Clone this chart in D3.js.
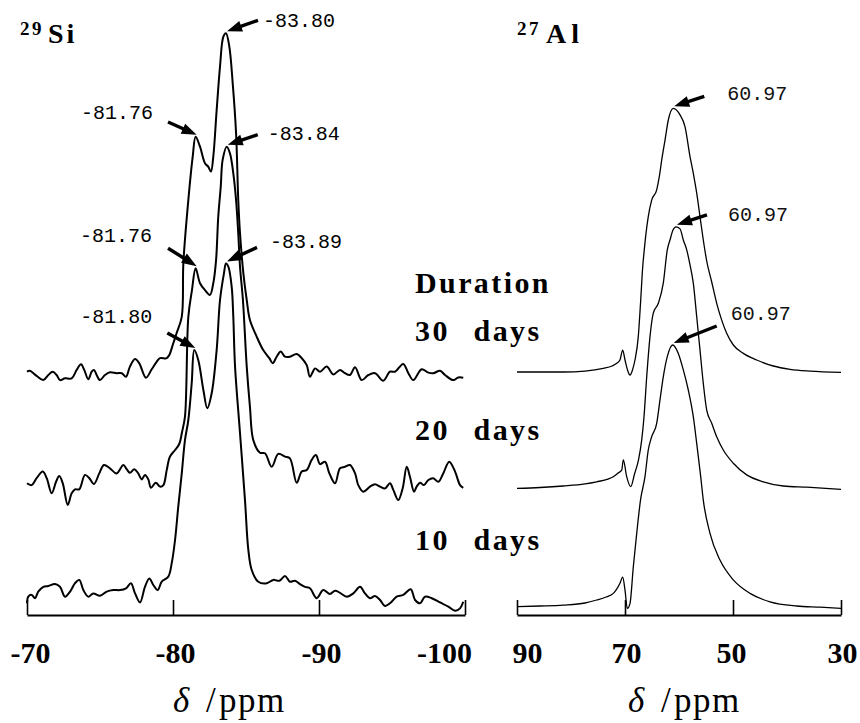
<!DOCTYPE html>
<html>
<head>
<meta charset="utf-8">
<script src="https://cdn.jsdelivr.net/npm/d3@7"></script>
<style>
  body { margin: 0; background: #fff; }
  svg { display: block; }
</style>
</head>
<body>
<svg id="chart"></svg>
<script>
// ---- data: [ppm, intensity above own baseline] ----
const si10 = [[-70.0,-3.1],[-70.09,-0.9],[-70.32,-0.3],[-70.55,-1.4],[-70.77,0.8],[-71.12,2.4],[-71.46,2.7],[-71.92,3.3],[-72.26,2.4],[-72.6,-0.9],[-72.95,0.8],[-73.29,3.6],[-73.58,4.7],[-73.86,1.3],[-74.2,-0.9],[-74.54,0.2],[-75.0,-0.6],[-75.46,0.8],[-75.91,1.3],[-76.37,1.3],[-76.78,1.9],[-77.12,3.6],[-77.4,0.2],[-77.74,-2.8],[-78.08,2.4],[-78.38,5.2],[-78.65,3],[-78.95,1.3],[-79.23,4.1],[-79.68,5.8],[-79.91,10.2],[-80.14,18],[-80.36,29.1],[-80.6,40.2],[-80.82,51.3],[-81.05,58],[-81.28,70.2],[-81.46,81.3],[-81.73,78],[-82.08,68],[-82.35,61.9],[-82.65,66.9],[-82.99,81.3],[-83.22,98],[-83.49,106.9],[-83.63,110.2],[-83.79,109.1],[-84.02,102.4],[-84.13,92.4],[-84.25,75.8],[-84.59,53.6],[-84.93,31.3],[-85.16,14.7],[-85.39,8],[-85.84,4.1],[-86.42,3.6],[-86.87,4.7],[-87.28,4.4],[-87.67,6],[-88.01,4.1],[-88.36,4.4],[-88.7,3.3],[-89.04,2.4],[-89.38,1.9],[-89.84,-1.4],[-90.29,1.3],[-90.75,0],[-91.1,1.1],[-91.44,0.4],[-91.9,-0.9],[-92.35,0.2],[-92.81,2.4],[-93.15,0.2],[-93.49,-1.4],[-93.84,-0.7],[-94.18,-2],[-94.52,-4],[-94.86,-3.1],[-95.32,-0.9],[-95.77,-0.3],[-96.28,1.6],[-96.58,-2],[-96.92,-3.1],[-97.26,-0.9],[-97.72,-1.4],[-98.29,-2.8],[-98.86,-4.2],[-99.32,-5.6],[-99.66,-4.8],[-99.88,-2.6]];

const si20 = [[-70.0,1.9],[-70.32,1.3],[-70.66,3.6],[-71.08,5.8],[-71.35,3.6],[-71.69,-1.4],[-71.99,2.4],[-72.21,4.3],[-72.45,1.9],[-72.79,-5.3],[-73.06,-1.4],[-73.29,-0.1],[-73.58,-0.1],[-73.97,4.7],[-74.27,3.6],[-74.59,1.7],[-74.95,5.2],[-75.27,8],[-75.68,6.9],[-76.14,5.2],[-76.6,8],[-76.83,6.6],[-77.05,5.4],[-77.35,6.6],[-77.62,5.2],[-77.86,3.2],[-78.08,4.7],[-78.31,3.2],[-78.49,0.4],[-78.82,2.1],[-79.11,0.8],[-79.34,1.3],[-79.57,6.3],[-79.79,10.8],[-80.14,13],[-80.43,15],[-80.62,19],[-80.82,24.1],[-81.05,57.4],[-81.3,66.3],[-81.55,73.6],[-81.85,68.6],[-82.19,66.3],[-82.53,64.7],[-82.76,68.6],[-82.95,76.3],[-83.1,90.8],[-83.27,100.8],[-83.4,109.7],[-83.68,114.1],[-83.9,111.9],[-84.13,105.2],[-84.32,96.3],[-84.47,85.2],[-84.59,74.1],[-84.79,63],[-85.05,40.8],[-85.27,27.4],[-85.5,16.3],[-85.96,12.1],[-86.3,11.9],[-86.76,7.4],[-87.21,11.7],[-87.67,10.8],[-88.01,10.2],[-88.47,2.1],[-88.82,5.8],[-89.16,6.3],[-89.5,9.7],[-89.79,11.3],[-90.07,8.3],[-90.41,9.1],[-90.71,5.2],[-91.1,1.9],[-91.44,6.9],[-91.78,7.4],[-92.12,8],[-92.47,5.2],[-92.69,1.3],[-93.03,-0.9],[-93.49,0.8],[-93.84,1.6],[-94.18,0.8],[-94.52,0.2],[-94.86,1.9],[-95.09,-0.3],[-95.43,-3.7],[-95.73,0.2],[-96.01,7.4],[-96.23,4.1],[-96.51,-0.9],[-96.69,0.8],[-96.92,2.1],[-97.19,1.3],[-97.49,3],[-97.83,3.6],[-98.17,2.4],[-98.51,5.2],[-98.92,9.1],[-99.32,5.8],[-99.66,1.3],[-99.88,0.4]];

const si30 = [[-70.0,1.1],[-70.2,1.4],[-70.66,-0.3],[-71.12,-1.7],[-71.46,0],[-71.76,1.1],[-72.03,0],[-72.26,-1.7],[-72.6,-1.1],[-73.06,-1.1],[-73.4,1.7],[-73.7,3.6],[-73.92,1.7],[-74.2,-1.4],[-74.43,1.1],[-74.59,1.7],[-74.77,0],[-75.0,-1.7],[-75.34,0],[-75.68,0.9],[-76.14,0.6],[-76.49,0.6],[-76.78,-0.6],[-77.05,2.8],[-77.4,5.3],[-77.69,3.9],[-78.15,-0.9],[-78.54,1.9],[-78.88,4.4],[-79.11,5.6],[-79.57,5.6],[-79.75,6.7],[-80.02,10.6],[-80.25,14],[-80.6,19.4],[-80.71,37.3],[-81.05,58.3],[-81.35,72.8],[-81.55,79.4],[-81.85,76.1],[-82.19,70.6],[-82.42,69.4],[-82.6,67.8],[-82.76,72.8],[-82.99,88.3],[-83.22,102.8],[-83.45,112.8],[-83.63,113.9],[-83.86,109.4],[-84.09,97.2],[-84.32,80.6],[-84.47,58.3],[-84.59,47.2],[-84.82,33.9],[-85.05,25],[-85.27,18.3],[-85.73,12.8],[-86.18,8.3],[-86.6,5.6],[-86.83,3.9],[-87.1,6.1],[-87.38,7.8],[-87.67,6.1],[-88.01,6.1],[-88.47,7],[-88.82,5.6],[-89.16,3.3],[-89.38,-0.6],[-89.73,2.2],[-90.07,1.1],[-90.53,2.8],[-90.98,0.2],[-91.44,1.7],[-91.78,0.6],[-92.12,0],[-92.47,2.6],[-92.92,-1.7],[-93.38,0],[-93.84,0.6],[-94.4,-1.9],[-94.86,1.1],[-95.21,1.1],[-95.77,3.7],[-96.12,0.6],[-96.46,-1.7],[-97.03,1.9],[-97.49,0.8],[-97.83,0.6],[-98.29,1.4],[-98.63,0],[-99.2,-1.7],[-99.54,-0.8],[-99.88,-0.9]];

const al10 = [[90,-0.2],[85.74,0],[81.43,0.3],[77.41,1],[75.24,2],[73.52,3],[72.17,4.2],[70.93,7.6],[70.43,9.6],[70,5.3],[69.57,-0.8],[69.07,0.9],[68.46,13.1],[67.83,24.2],[67.13,35.3],[66.3,43.1],[65.69,52],[65.06,56.4],[64.13,60.9],[63.52,68.7],[62.91,76.4],[62.17,83.1],[61.17,87],[60.13,84.2],[59.2,78.7],[58.28,72],[57.35,63.1],[56.72,54.2],[55.98,43.1],[55.5,35.3],[54.26,24.2],[52.41,15.3],[49.94,8.7],[46.85,4.2],[43.15,1.4],[38.2,0],[33.89,-0.4],[30,-0.8]];

const al20 = [[90,0.2],[85.74,0.5],[81.43,1],[77.41,1.7],[75.24,2.4],[73.15,3.3],[72.17,4.1],[71.3,5.3],[70.61,6.3],[70.31,9.7],[69.69,4.1],[68.94,0.8],[68.24,5],[67.5,9.7],[66.91,16.3],[66.48,24.1],[65.98,37.4],[65.37,50.8],[64.76,58.6],[63.83,61.9],[62.91,68.6],[62.17,79.7],[61.67,83],[61.11,86.3],[60.56,87.4],[59.81,86.7],[59.2,83],[58.57,79.7],[57.96,74.7],[57.35,68.6],[56.72,57.4],[56.11,46.3],[55.5,35.2],[54.87,26.3],[53.94,21.9],[53.02,17.4],[51.8,13],[49.94,8.6],[47.46,4.7],[44.39,2.4],[40.69,1],[36.35,0.6],[30,-0.1]];

const al30 = [[90,0],[85.74,0],[81.43,0],[77.41,0.3],[74.02,1.2],[72.41,2],[71.54,2.9],[70.93,4],[70.43,7.3],[70,4],[69.54,0.7],[69.07,-1],[68.61,0.7],[68.15,4],[67.54,11.8],[67.09,24],[66.72,35.1],[66.43,40.7],[66.11,46.2],[65.69,51.8],[65.06,57.3],[64.13,60.7],[63.65,65.1],[63.2,70.7],[62.59,77.3],[61.98,84],[61.06,87.9],[59.81,85.7],[58.89,81.8],[57.96,71.8],[57.35,66.2],[56.72,59.6],[56.11,51.8],[55.5,44],[54.87,37],[53.94,30],[53.02,22.9],[52.09,17.3],[51.17,12.9],[49.94,9],[48.09,6.2],[45.61,4],[42.54,2],[39.44,0.9],[35.74,0.3],[30,-0.1]];

// stacking offsets for 10, 20, 30 days
const siOffsets = [7, 42, 80];
const alOffsets = [3, 42, 81];
const durations = ["30  days", "20  days", "10  days"];

const siTicks = [-70, -80, -90, -100];
const alTicks = [90, 70, 50, 30];

// peak annotations: series index (0=10 d, 1=20 d, 2=30 d) and label
const siNoteSeries = [2, 2, 1, 1, 0, 0];
const siNoteLabels = ["-83.80", "-81.76", "-83.84", "-81.76", "-83.89", "-81.80"];
const alNoteSeries = [2, 1, 0];
const alNoteLabels = ["60.97", "60.97", "60.97"];

// ---- layout ----
const W = 860, H = 723, axisY = 615;
const serif = '"Liberation Serif", "Times New Roman", serif';
const mono = '"Liberation Mono", "Courier New", monospace';

const svg = d3.select('#chart').attr('width', W).attr('height', H);
svg.append('rect').attr('width', W).attr('height', H).attr('fill', '#fff');

const y = d3.scaleLinear().domain([0, 200]).range([axisY, 15]);
const xSi = d3.scaleLinear().domain([-70, -100]).range([27, 465]);
const xAl = d3.scaleLinear().domain([90, 30]).range([517, 841]);

function drawPanel(x, series, offsets, ticks, strokeW, labelShift, curve) {
    let g = svg.append('g');
    series.forEach(function(s, i) {
        let line = d3.line()
            .x(d => x(d[0]))
            .y(d => y(d[1] + offsets[i]))
            .curve(curve);
        g.append('path')
            .attr('fill', 'none')
            .attr('stroke', '#000')
            .attr('stroke-width', strokeW)
            .attr('stroke-linejoin', 'round')
            .attr('d', line(s));
    });

    let ax = g.append('g')
        .attr('transform', 'translate(0,' + axisY + ')')
        .call(d3.axisBottom(x).tickValues(ticks).tickSizeInner(-15)
            .tickSizeOuter(0).tickPadding(27).tickFormat(d => String(d)));
    ax.attr('font-family', null).attr('font-size', null);
    ax.select('.domain').attr('stroke-width', 2.2);
    ax.selectAll('.tick line').attr('stroke-width', 1.6);
    ax.selectAll('.tick text')
        .attr('font-family', serif).attr('font-size', 30).attr('font-weight', 'bold')
        .attr('fill', '#000')
        .attr('dx', (d, i) => labelShift[i]);
    return g;
}

drawPanel(xSi, [si10, si20, si30], siOffsets, siTicks, 2, [3, 2, 2, -21],
    d3.curveCatmullRom.alpha(0.5));
drawPanel(xAl, [al10, al20, al30], alOffsets, alTicks, 1.3, [10, 1, -2, 1],
    d3.curveMonotoneX);

// arrows
function arrow(tx, ty, sx, sy) {
    let dx = tx - sx, dy = ty - sy, len = Math.hypot(dx, dy);
    let ux = dx / len, uy = dy / len, L = 15, w = 5.5;
    let bx = tx - ux * L, by = ty - uy * L;
    svg.append('line').attr('x1', sx).attr('y1', sy).attr('x2', bx + ux * 2).attr('y2', by + uy * 2)
        .attr('stroke', '#000').attr('stroke-width', 3.4);
    svg.append('path')
        .attr('d', 'M' + tx + ',' + ty + 'L' + (bx - uy * w) + ',' + (by + ux * w) +
                   'L' + (bx + uy * w) + ',' + (by - ux * w) + 'Z')
        .attr('fill', '#000');
}

function annotate(x, series, offsets, noteSeries, labels, layout, color) {
    noteSeries.forEach(function(si, i) {
        let target = +labels[i];
        let near = series[si].filter(d => Math.abs(d[0] - target) < 0.5);
        let pk = near.reduce((a, b) => b[1] > a[1] ? b : a);
        let tx = x(pk[0]) + 1, ty = y(pk[1] + offsets[si]) - 2;
        let lay = layout[i];
        arrow(tx, ty, tx + lay[0], ty + lay[1]);
        svg.append('text')
            .attr('x', tx + lay[2]).attr('y', ty + lay[3])
            .attr('text-anchor', lay[4])
            .attr('font-family', mono).attr('font-size', 20)
            .attr('fill', color)
            .text(labels[i]);
    });
}

const siSeries = [si10, si20, si30];
const alSeries = [al10, al20, al30];
annotate(xSi, siSeries, siOffsets, siNoteSeries, siNoteLabels,
    [[31, -11, 36, -4, 'start'], [-28.6, -12.8, -43.6, -15.8, 'end'],
     [30, -10, 40, -5, 'start'], [-28.6, -18, -44.6, -24, 'end'],
     [30, -14, 43, -13, 'start'], [-28, -15, -43, -25, 'end']], '#000');
annotate(xAl, alSeries, alOffsets, alNoteSeries, alNoteLabels,
    [[30, -10, 53, -6, 'start'], [30, -10, 51, -4, 'start'], [43, -17, 57, -23, 'start']], '#111');

// nucleus titles
svg.append('text').attr('x', 20).attr('y', 35).attr('font-family', serif)
    .attr('font-size', 19).attr('font-weight', 'bold').attr('letter-spacing', 2.5).text('29');
svg.append('text').attr('x', 48).attr('y', 43).attr('font-family', serif)
    .attr('font-size', 28).attr('font-weight', 'bold').attr('letter-spacing', 3).text('Si');
svg.append('text').attr('x', 517).attr('y', 35).attr('font-family', serif)
    .attr('font-size', 19).attr('font-weight', 'bold').attr('letter-spacing', 2.5).text('27');
svg.append('text').attr('x', 546).attr('y', 43).attr('font-family', serif)
    .attr('font-size', 28).attr('font-weight', 'bold').attr('letter-spacing', 5).text('Al');

// duration labels
svg.append('text').attr('x', 415).attr('y', 293).attr('font-family', serif)
    .attr('font-size', 30).attr('font-weight', 'bold').attr('letter-spacing', 2.4)
    .text('Duration');
svg.selectAll('text.dur').data(durations).enter().append('text')
    .attr('class', 'dur')
    .attr('x', 415).attr('y', (d, i) => [341, 440, 550][i])
    .attr('font-family', serif).attr('font-size', 30).attr('font-weight', 'bold')
    .attr('letter-spacing', 2.4).attr('word-spacing', 2).attr('xml:space', 'preserve')
    .style('white-space', 'pre')
    .text(d => d);

// axis titles
[173, 628].forEach(function(x0) {
    let t = svg.append('text').attr('y', 712).attr('font-family', serif).attr('font-size', 35);
    t.append('tspan').attr('x', x0).attr('font-style', 'italic').text('δ');
    t.append('tspan').attr('x', x0 + 33).text('/');
    t.append('tspan').attr('x', x0 + 46).attr('letter-spacing', 1.5).text('ppm');
});
</script>
</body>
</html>
